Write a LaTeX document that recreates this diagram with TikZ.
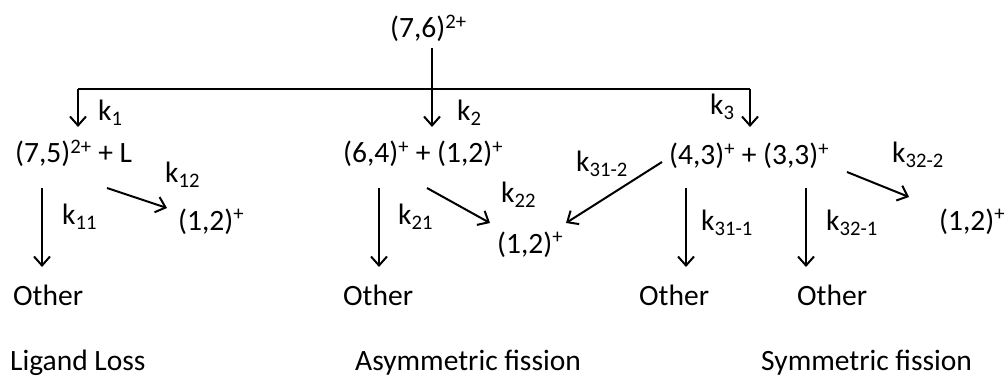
\documentclass[tikz,border=0pt]{standalone}
\usepackage{fontspec}
\setmainfont{Carlito}
\usetikzlibrary{arrows.meta}
\begin{document}
\begin{tikzpicture}[x=1pt,y=-1pt,
  txt/.style={inner sep=0pt, anchor=base west, font=\fontsize{29.5}{34}\selectfont},
  ln/.style={line width=2pt},
  arr/.style={line width=2pt, -{Straight Barb[length=9pt,width=16pt,line width=2pt]}}]
\useasboundingbox (0,0) rectangle (1008,379);
% texts
\node[txt] (top) at (390,38) {(7,6)\textsuperscript{2+}};
\node[txt] (k1) at (98,121) {k\textsubscript{1}};
\node[txt] (k2) at (457,121) {k\textsubscript{2}};
\node[txt] (k3) at (710,115) {k\textsubscript{3}};
\node[txt] (p1) at (15,163) {(7,5)\textsuperscript{2+} + L};
\node[txt] (p2) at (343,163) {(6,4)\textsuperscript{+} + (1,2)\textsuperscript{+}};
\node[txt] (p3) at (669,165) {(4,3)\textsuperscript{+} + (3,3)\textsuperscript{+}};
\node[txt] (k12) at (165,183) {k\textsubscript{12}};
\node[txt] (k11) at (62,225) {k\textsubscript{11}};
\node[txt] (q1) at (178,230) {(1,2)\textsuperscript{+}};
\node[txt] (k21) at (398,225) {k\textsubscript{21}};
\node[txt] (k22) at (501,203) {k\textsubscript{22}};
\node[txt] (q2) at (497,253) {(1,2)\textsuperscript{+}};
\node[txt] (k312) at (576,172) {k\textsubscript{31-2}};
\node[txt] (k311) at (701,231) {k\textsubscript{31-1}};
\node[txt] (k321) at (826,231) {k\textsubscript{32-1}};
\node[txt] (k322) at (892,163) {k\textsubscript{32-2}};
\node[txt] (q3) at (939,230) {(1,2)\textsuperscript{+}};
\node[txt] (o1) at (13,305) {Other};
\node[txt] (o2) at (343,305) {Other};
\node[txt] (o3) at (639,305) {Other};
\node[txt] (o4) at (797,305) {Other};
\node[txt] (t1) at (10,370) {Ligand Loss};
\node[txt] (t2) at (355,370) {Asymmetric fission};
\node[txt] (t3) at (761,370) {Symmetric fission};
% connector points
\coordinate (s0) at (432,48);
\coordinate (e2) at (432,127);
\coordinate (lc) at (78,89);
\coordinate (rc) at (750,89);
\coordinate (e1) at (78,127);
\coordinate (e3) at (750,127);
\coordinate (a11) at (42,188);  \coordinate (b11) at (42,267);
\coordinate (a12) at (107,188); \coordinate (b12) at (167,208);
\coordinate (a21) at (379,188); \coordinate (b21) at (379,267);
\coordinate (a22) at (427,188); \coordinate (b22) at (490,223);
\coordinate (a312) at (662,162); \coordinate (b312) at (566,223);
\coordinate (a311) at (686,188); \coordinate (b311) at (686,267);
\coordinate (a321) at (806,188); \coordinate (b321) at (806,267);
\coordinate (a322) at (847,172); \coordinate (b322) at (909,197);
% connectors
\draw[ln] (lc) -- (rc);
\draw[arr] (s0) -- (e2);
\draw[arr] (lc) -- (e1);
\draw[arr] (rc) -- (e3);
\draw[arr] (a11) -- (b11);
\draw[arr] (a12) -- (b12);
\draw[arr] (a21) -- (b21);
\draw[arr] (a22) -- (b22);
\draw[arr] (a312) -- (b312);
\draw[arr] (a311) -- (b311);
\draw[arr] (a321) -- (b321);
\draw[arr] (a322) -- (b322);
\end{tikzpicture}
\end{document}
